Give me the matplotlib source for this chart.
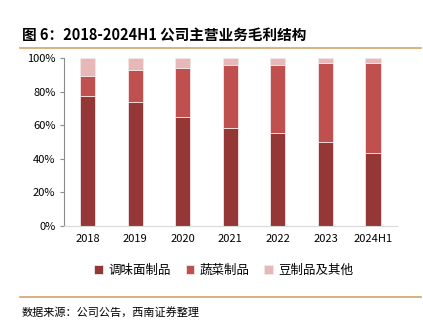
import matplotlib.pyplot as plt
import numpy as np

plt.rcParams['font.family'] = ['Noto Sans CJK SC', 'DejaVu Sans']

years = ["2018", "2019", "2020", "2021", "2022", "2023", "2024H1"]
seasoning = [77.6, 73.6, 64.7, 58.5, 55.6, 50.2, 43.6]
vegetable = [11.7, 19.3, 29.3, 37.3, 40.2, 47.0, 53.6]
bean_other = [10.7, 7.1, 6.0, 4.2, 4.2, 2.8, 2.8]
series_names = ["调味面制品", "蔬菜制品", "豆制品及其他"]
colors = ["#953735", "#c0504d", "#e6b9b8"]

fig = plt.figure(figsize=(4.23, 3.28), dpi=100)
ax = fig.add_axes([0.151, 0.311, 0.787, 0.512])

x = np.arange(len(years))
bottom = np.zeros(len(years))
for vals, name, c in zip([seasoning, vegetable, bean_other], series_names, colors):
    vals = np.array(vals) / 100.0
    ax.bar(x, vals, width=0.32, bottom=bottom, color=c, label=name,
           edgecolor="#f2e6e6", linewidth=0.6)
    bottom += vals

ax.set_xlim(-0.5, len(years) - 0.5)
ax.set_ylim(0, 1)
ax.set_yticks(np.arange(0, 1.01, 0.2))
ax.set_yticklabels([f"{int(v*100)}%" for v in np.arange(0, 1.01, 0.2)], fontsize=8)
ax.set_xticks(x)
ax.set_xticklabels(years, fontsize=8)
ax.tick_params(axis="x", length=0, pad=6)
ax.tick_params(axis="y", length=3, color="#8c8c8c", pad=3)
for s in ["top", "right"]:
    ax.spines[s].set_visible(False)
ax.spines["left"].set_color("#8c8c8c")
ax.spines["bottom"].set_color("#d9d9d9")

ax.legend(loc="upper center", bbox_to_anchor=(0.48, -0.16), ncol=3, frameon=False,
          fontsize=9, handlelength=0.7, handleheight=0.7, handletextpad=0.4,
          columnspacing=1.2)

fig.text(0.052, 0.895, "图 6：2018-2024H1 公司主营业务毛利结构", fontsize=10.5,
         fontweight="bold", va="center")
fig.add_artist(plt.Line2D([0.047, 0.995], [0.853, 0.853], color="#d4a467", lw=1.2))
fig.add_artist(plt.Line2D([0.047, 0.995], [0.094, 0.094], color="#d4a467", lw=1.2))
fig.text(0.052, 0.048, "数据来源：公司公告，西南证券整理", fontsize=8,
         style="italic", va="center")

fig.savefig("out.png", dpi=100)
